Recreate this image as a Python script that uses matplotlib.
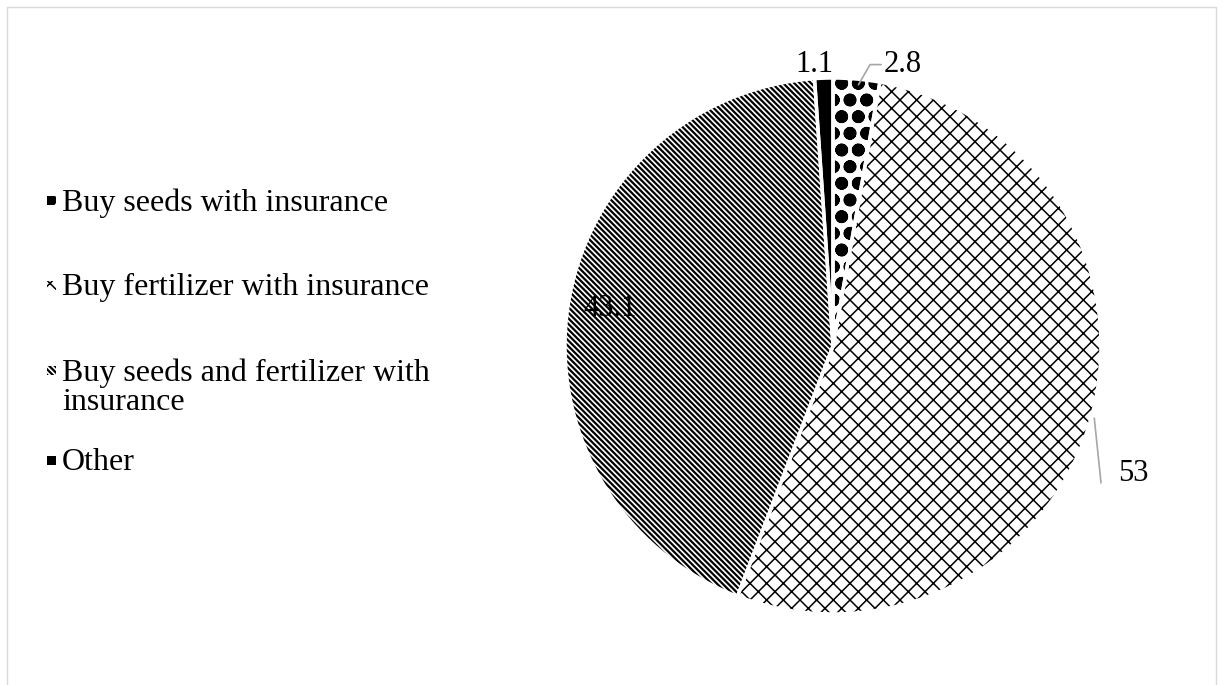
import numpy as np
import matplotlib
matplotlib.use('Agg')
import matplotlib.pyplot as plt
from matplotlib.patches import Rectangle

plt.rcParams['font.family'] = ['Liberation Serif', 'DejaVu Serif']
plt.rcParams['hatch.linewidth'] = 1.0

# data
categories = ['Buy seeds with insurance',
              'Buy fertilizer with insurance',
              'Buy seeds and fertilizer with\ninsurance',
              'Other']
values = [2.8, 53, 43.1, 1.1]
value_labels = ['2.8', '53', '43.1', '1.1']
hatches = ['o', 'xx', '\\\\\\\\\\\\', '']
hatch_lw = [4.5, 1.1, 1.6, 1.0]
faces = ['white', 'white', 'white', 'black']

fig = plt.figure(figsize=(12.23, 6.85), dpi=100)
fig.patches.append(Rectangle((0.006, -0.01), 0.988, 1.0, transform=fig.transFigure,
                             fill=False, edgecolor='#d9d9d9', linewidth=1))

W, H = 1223, 685
cx, cy, r = 833, 346, 268
ax = fig.add_axes([(cx - r) / W, (H - cy - r) / H, 2 * r / W, 2 * r / H])

wedges, _ = ax.pie(values, startangle=90, counterclock=False, colors=faces,
                   wedgeprops=dict(linewidth=0, edgecolor='black'))
for w, h, lw in zip(wedges, hatches, hatch_lw):
    w.set_hatch(h)
    if hasattr(w, 'set_hatch_linewidth'):
        w.set_hatch_linewidth(lw)
    else:
        w._hatch_linewidth = lw
# white separators
ax.pie(values, startangle=90, counterclock=False, colors=['none'] * 4,
       wedgeprops=dict(linewidth=2.5, edgecolor='white'))
ax.set_xlim(-1, 1)
ax.set_ylim(-1, 1)
ax.set_aspect('equal')

fs = 22
gray = '#a6a6a6'
# 2.8 (leader line)
ax.annotate(value_labels[0], xy=(0.095, 0.975), xytext=(0.19, 1.05),
            fontsize=fs, ha='left', va='center',
            arrowprops=dict(arrowstyle='-', color=gray, lw=1.2,
                            connectionstyle='angle,angleA=0,angleB=60,rad=0',
                            shrinkA=0, shrinkB=0))
# 53 (leader line)
ax.plot([0.975, 1.0], [-0.27, -0.51], color=gray, lw=1.2, clip_on=False)
ax.text(1.065, -0.475, value_labels[1], fontsize=fs, ha='left', va='center')
# 43.1 inside the slice
ax.text(-0.83, 0.14, value_labels[2], fontsize=fs, ha='center', va='center')
# 1.1
ax.text(-0.07, 1.05, value_labels[3], fontsize=fs, ha='center', va='center')

# legend drawn by hand (Excel-like spacing)
leg_y = [200, 285, 370, 460]
for lab, f, h, lw, y in zip(categories, faces, hatches, hatch_lw, leg_y):
    sq = Rectangle((47 / W, 1 - (y + 5) / H), 9 / W, 9 / H, transform=fig.transFigure,
                   facecolor=f, edgecolor='black', hatch=h, linewidth=0)
    if hasattr(sq, 'set_hatch_linewidth'):
        sq.set_hatch_linewidth(lw)
    fig.patches.append(sq)
    fig.text(62 / W, 1 - (y - 12) / H, lab, fontsize=23, ha='left', va='top',
             linespacing=1.0)

fig.savefig('out.png', dpi=100)
